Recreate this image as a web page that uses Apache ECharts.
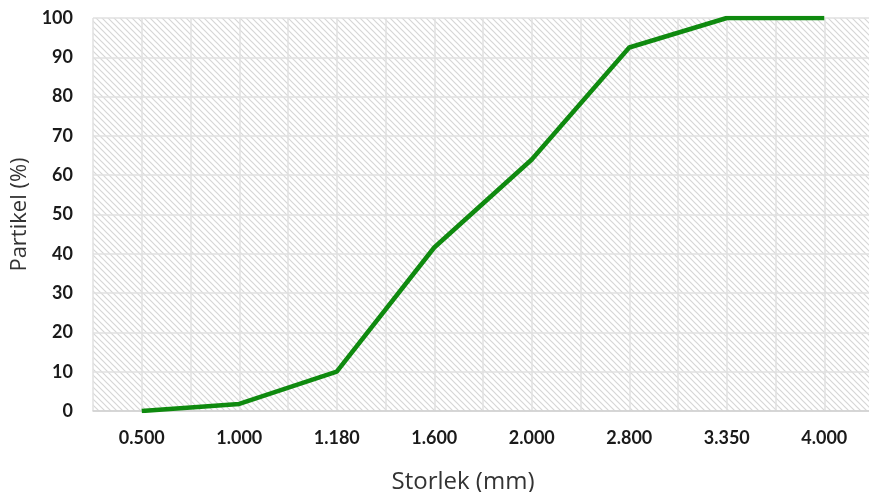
<!DOCTYPE html>
<html>
<head>
<meta charset="utf-8">
<script src="https://cdn.jsdelivr.net/npm/echarts@6/dist/echarts.min.js"></script>
<style>
html,body{margin:0;padding:0;background:#fff;}
#chart{width:869px;height:492px;}
</style>
</head>
<body>
<div id="chart"></div>
<script>
const categories = ['0.500','1.000','1.180','1.600','2.000','2.800','3.350','4.000'];
const particleValues = [0, 1.8, 10, 41.6, 64, 92.5, 100, 100];
const yTicks = [0,10,20,30,40,50,60,70,80,90,100];

// hatch pattern
const pc = document.createElement('canvas');
pc.width = 6; pc.height = 6;
const ctx = pc.getContext('2d');
ctx.fillStyle = '#ffffff';
ctx.fillRect(0,0,6,6);
ctx.strokeStyle = '#d6d6d6';
ctx.lineWidth = 1.2;
ctx.beginPath();
ctx.moveTo(-1,-1); ctx.lineTo(7,7);
ctx.moveTo(-4,2); ctx.lineTo(4,10);
ctx.moveTo(2,-4); ctx.lineTo(10,4);
ctx.stroke();

const chart = echarts.init(document.getElementById('chart'), null, {renderer:'canvas'});
const gridColor = '#e0e0e0';
chart.setOption({
  animation:false,
  grid:{left:93, right:-4, top:18, bottom:81, show:true, outerBoundsMode:'none', containLabel:false,
    backgroundColor:{image:pc, repeat:'repeat'}, borderWidth:0},
  xAxis:[{
    type:'category', data:categories, boundaryGap:true,
    axisLine:{show:true, lineStyle:{color:'#d0d0d0', width:1.5}},
    axisTick:{show:false},
    axisLabel:{color:'#1a1a1a', fontFamily:'Lato', fontWeight:'bold', fontSize:18, margin:18},
    splitLine:{show:false},
    name:'Storlek (mm)', nameLocation:'middle', nameGap:59,
    nameTextStyle:{color:'#333', fontFamily:'Open Sans', fontSize:24, padding:[0,40,0,0]}
  },{
    type:'value', min:0, max:16, interval:1, show:true, position:'bottom',
    axisLine:{show:false}, axisTick:{show:false}, axisLabel:{show:false},
    splitLine:{show:true, lineStyle:{color:gridColor, width:1.5}}
  }],
  yAxis:{
    type:'value', min:0, max:100, interval:10,
    axisLine:{show:false}, axisTick:{show:false},
    axisLabel:{color:'#1a1a1a', fontFamily:'Lato', fontWeight:'bold', fontSize:18, margin:20,
      formatter:function(v){return yTicks.indexOf(v)>=0? String(v):'';}},
    splitLine:{show:true, lineStyle:{color:gridColor, width:1.5}},
    name:'Partikel (%)', nameLocation:'middle', nameGap:62, nameRotate:90,
    nameTextStyle:{color:'#333', fontFamily:'Open Sans', fontSize:22}
  },
  series:[{
    type:'line', xAxisIndex:0, data:particleValues, symbol:'none',
    lineStyle:{color:'#0f8a0f', width:4.5}
  }]
});
</script>
</body>
</html>
